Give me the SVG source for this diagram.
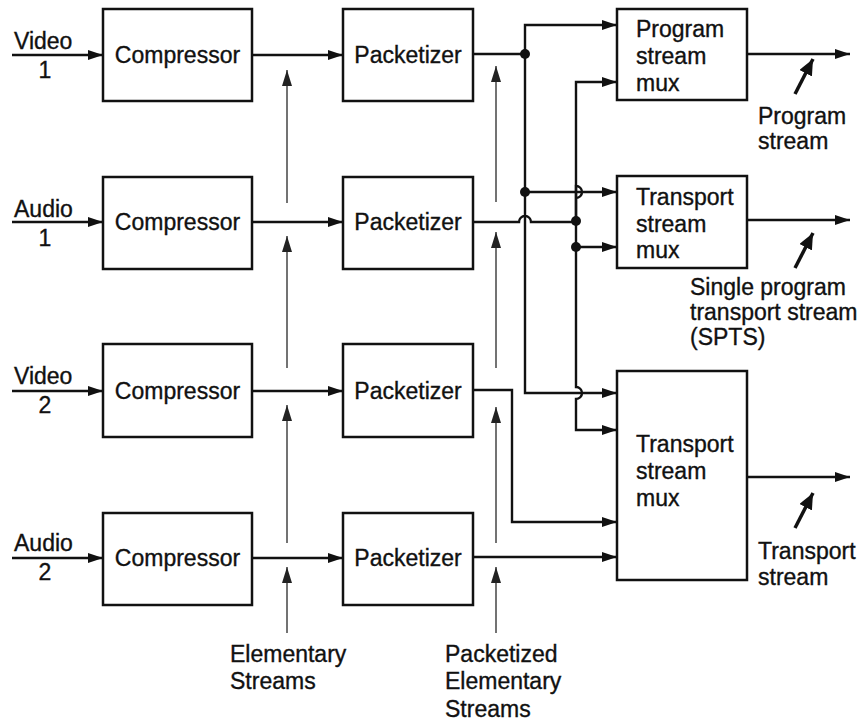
<svg xmlns="http://www.w3.org/2000/svg" width="866" height="722" viewBox="0 0 866 722">
<style>
text{font-family:"Liberation Sans",Arial,Helvetica,sans-serif;font-size:23px;fill:#111;stroke:#111;stroke-width:0.35}
.box{fill:#fff;stroke:#111;stroke-width:2.5}
.ln{fill:none;stroke:#111;stroke-width:2.4}
.gr{fill:none;stroke:#444;stroke-width:1.5}
.dg{fill:none;stroke:#111;stroke-width:3.5}
.mid{text-anchor:middle}
</style>
<defs>
<marker id="a" viewBox="0 0 15 10" refX="15" refY="5" markerWidth="15" markerHeight="10" markerUnits="userSpaceOnUse" orient="auto"><path d="M0,0 L15,5 L0,10 z" fill="#111"/></marker>
<marker id="g" viewBox="0 0 16 10" refX="16" refY="5" markerWidth="16" markerHeight="10" markerUnits="userSpaceOnUse" orient="auto"><path d="M0,0 L16,5 L0,10 z" fill="#222"/></marker>
<marker id="d" viewBox="0 0 16 14" refX="16" refY="7" markerWidth="16" markerHeight="14" markerUnits="userSpaceOnUse" orient="auto"><path d="M0,0 L16,7 L0,14 z" fill="#111"/></marker>
</defs>

<g id="connectors">
<!-- inputs -->
<path class="ln" d="M12,55 H103" marker-end="url(#a)"/>
<path class="ln" d="M12,222 H103" marker-end="url(#a)"/>
<path class="ln" d="M12,391 H103" marker-end="url(#a)"/>
<path class="ln" d="M12,558 H103" marker-end="url(#a)"/>
<!-- compressor to packetizer -->
<path class="ln" d="M252,55 H343" marker-end="url(#a)"/>
<path class="ln" d="M252,222 H343" marker-end="url(#a)"/>
<path class="ln" d="M252,391 H343" marker-end="url(#a)"/>
<path class="ln" d="M252,558 H343" marker-end="url(#a)"/>
<!-- packetizer 1 routing -->
<path class="ln" d="M473,54 H525"/>
<path class="ln" d="M525,54 V25 H617" marker-end="url(#a)"/>
<path class="ln" d="M525,54 V393 H617" marker-end="url(#a)"/>
<path class="ln" d="M525,192 H617" marker-end="url(#a)"/>
<!-- packetizer 2 routing -->
<path class="ln" d="M473,222 H519 a6,6 0 0 1 12,0 H576"/>
<path class="ln" d="M576,221 V186 a6,6 0 0 1 0,12"/>
<path class="ln" d="M576,221 V82 H617" marker-end="url(#a)"/>
<path class="ln" d="M576,221 V387 a6,6 0 0 1 0,12 V430 H617" marker-end="url(#a)"/>
<path class="ln" d="M576,247 H617" marker-end="url(#a)"/>
<!-- packetizer 3 and 4 -->
<path class="ln" d="M473,390 H512 V522 H617" marker-end="url(#a)"/>
<path class="ln" d="M473,557 H617" marker-end="url(#a)"/>
<!-- junction dots -->
<circle cx="525" cy="54" r="5" fill="#111"/>
<circle cx="525" cy="192" r="5" fill="#111"/>
<circle cx="576" cy="221" r="5" fill="#111"/>
<circle cx="576" cy="247" r="5" fill="#111"/>
<!-- outputs -->
<path class="ln" d="M747,54 H850" marker-end="url(#a)"/>
<path class="ln" d="M747,220 H850" marker-end="url(#a)"/>
<path class="ln" d="M747,477 H850" marker-end="url(#a)"/>
<path class="dg" d="M795,94 L813,59" marker-end="url(#d)"/>
<path class="dg" d="M795,268 L813,233" marker-end="url(#d)"/>
<path class="dg" d="M795,528 L813,493" marker-end="url(#d)"/>
<!-- elementary stream pointer arrows -->
<path class="gr" d="M287,203 V70" marker-end="url(#g)"/>
<path class="gr" d="M287,368 V236" marker-end="url(#g)"/>
<path class="gr" d="M287,543 V405" marker-end="url(#g)"/>
<path class="gr" d="M287,633 V567" marker-end="url(#g)"/>
<path class="gr" d="M496,202 V66" marker-end="url(#g)"/>
<path class="gr" d="M496,368 V232" marker-end="url(#g)"/>
<path class="gr" d="M496,543 V407" marker-end="url(#g)"/>
<path class="gr" d="M496,633 V567" marker-end="url(#g)"/>
</g>

<g id="compressor1"><rect class="box" x="103" y="9" width="149" height="92"/><text class="mid" x="177.5" y="63">Compressor</text></g>
<g id="compressor2"><rect class="box" x="103" y="177" width="149" height="92"/><text class="mid" x="177.5" y="230">Compressor</text></g>
<g id="compressor3"><rect class="box" x="103" y="344" width="149" height="93"/><text class="mid" x="177.5" y="399">Compressor</text></g>
<g id="compressor4"><rect class="box" x="103" y="513" width="149" height="92"/><text class="mid" x="177.5" y="566">Compressor</text></g>

<g id="packetizer1"><rect class="box" x="343" y="9" width="130" height="92"/><text class="mid" x="408" y="63">Packetizer</text></g>
<g id="packetizer2"><rect class="box" x="343" y="177" width="130" height="92"/><text class="mid" x="408" y="230">Packetizer</text></g>
<g id="packetizer3"><rect class="box" x="343" y="344" width="130" height="93"/><text class="mid" x="408" y="399">Packetizer</text></g>
<g id="packetizer4"><rect class="box" x="343" y="513" width="130" height="92"/><text class="mid" x="408" y="566">Packetizer</text></g>

<g id="program-stream-mux"><rect class="box" x="617" y="9" width="130" height="91"/><text x="636" y="37">Program</text><text x="636" y="64">stream</text><text x="636" y="91">mux</text></g>
<g id="transport-stream-mux-spts"><rect class="box" x="617" y="176" width="130" height="92"/><text x="636" y="205">Transport</text><text x="636" y="232">stream</text><text x="636" y="258">mux</text></g>
<g id="transport-stream-mux"><rect class="box" x="617" y="371" width="130" height="209"/><text x="636" y="452">Transport</text><text x="636" y="479">stream</text><text x="636" y="506">mux</text></g>

<g id="input-labels">
<text x="14" y="49">Video</text><text class="mid" x="45" y="78">1</text>
<text x="14" y="217">Audio</text><text class="mid" x="45" y="246">1</text>
<text x="14" y="384">Video</text><text class="mid" x="45" y="413">2</text>
<text x="14" y="551">Audio</text><text class="mid" x="45" y="580">2</text>
</g>
<g id="output-labels">
<text x="758" y="124">Program</text><text x="758" y="149">stream</text>
<text x="690" y="295">Single program</text><text x="690" y="320">transport stream</text><text x="690" y="345">(SPTS)</text>
<text x="758" y="559">Transport</text><text x="758" y="585">stream</text>
</g>
<g id="bottom-labels">
<text x="230" y="662">Elementary</text><text x="230" y="689">Streams</text>
<text x="445" y="662">Packetized</text><text x="445" y="689">Elementary</text><text x="445" y="717">Streams</text>
</g>
</svg>
